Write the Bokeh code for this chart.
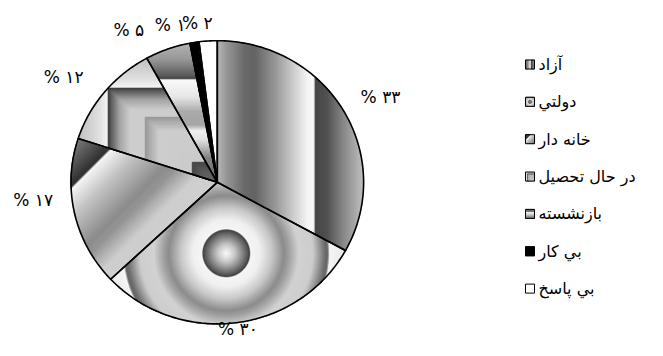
import numpy as np
from bokeh.plotting import figure
from bokeh.models import Range1d, ColumnDataSource
from bokeh.embed import file_html
from bokeh.resources import INLINE
from bokeh.core.properties import value

# ---------------- data ----------------
categories = ["آزاد", "دولتي", "خانه دار", "در حال تحصيل", "بازنشسته", "بي كار", "بي پاسخ"]
percents = [33, 30, 17, 12, 5, 1, 2]

FA_DIGITS = str.maketrans("0123456789", "۰۱۲۳۴۵۶۷۸۹")
labels = ["% " + str(v).translate(FA_DIGITS) for v in percents]

# ---------------- layout / style ----------------
W, H = 647, 340
CX, CY = 216.8, 181.8          # pie centre (px, y down)
RX, RY = 146.3, 141.6          # pie radii
FONT = "DejaVu Sans"
label_r = [184, 148.5, 185, 186, 176, 164, 161]
label_shift = [3.1, -0.8, 7.1, -5.3, -10.4, -7.7, -3.5]
LEG_X, LEG_Y0, LEG_DY, LEG_S = 525, 64, 37.35, 9


def gray(g):
    g = int(max(0, min(255, round(g))))
    return "#%02x%02x%02x" % (g, g, g)


# ---------------- geometry helpers ----------------
def hp(poly, a, b):
    """keep part of polygon with a.p <= b"""
    out = []
    n = len(poly)
    for i in range(n):
        P, Q = poly[i], poly[(i + 1) % n]
        fp = a[0] * P[0] + a[1] * P[1] - b
        fq = a[0] * Q[0] + a[1] * Q[1] - b
        if fp <= 0:
            out.append(P)
        if (fp < 0 < fq) or (fq < 0 < fp):
            t = fp / (fp - fq)
            out.append((P[0] + t * (Q[0] - P[0]), P[1] + t * (Q[1] - P[1])))
    return out


def area(poly):
    s = 0.0
    for i in range(len(poly)):
        x0, y0 = poly[i]
        x1, y1 = poly[(i + 1) % len(poly)]
        s += x0 * y1 - x1 * y0
    return s / 2


def clip_convex(subj, clip):
    sg = 1 if area(clip) > 0 else -1
    for i in range(len(clip)):
        A, B = clip[i], clip[(i + 1) % len(clip)]
        a = (sg * (B[1] - A[1]), -sg * (B[0] - A[0]))
        b = a[0] * A[0] + a[1] * A[1]
        subj = hp(subj, a, b)
        if len(subj) < 3:
            return []
    return subj


def breaks(lo, hi, ts, step):
    vals = list(np.arange(lo, hi, step)) + [t for t in ts if lo < t < hi] + [hi]
    return sorted(set(round(v, 4) for v in vals))


def linear(S, n, prof, step=1.0):
    ts = np.array([p[0] for p in prof], float)
    gs = np.array([p[1] for p in prof], float)
    proj = [n[0] * x + n[1] * y for x, y in S]
    br = breaks(min(proj), max(proj), ts, step)
    out = []
    for t0, t1 in zip(br[:-1], br[1:]):
        poly = hp(S, (-n[0], -n[1]), -t0)
        poly = hp(poly, n, t1)
        if len(poly) >= 3:
            out.append((poly, gray(np.interp((t0 + t1) / 2, ts, gs))))
    return out


def radial(S, c, prof, step=1.0, nseg=72):
    rs = np.array([p[0] for p in prof], float)
    gs = np.array([p[1] for p in prof], float)
    far = max(np.hypot(x - c[0], y - c[1]) for x, y in S)
    br = breaks(0.0, far, rs, step)[::-1]
    out = []
    last = None
    for k in range(len(br) - 1):
        r0, r1 = br[k], br[k + 1]
        col = gray(np.interp((r0 + r1) / 2, rs, gs))
        if col == last:
            continue
        m = max(16, int(nseg * min(1, r0 / 40)))
        ang = np.linspace(0, 2 * np.pi, m, endpoint=False)
        rr = r0 / np.cos(np.pi / m)
        disk = [(c[0] + rr * np.cos(t), c[1] + rr * np.sin(t)) for t in ang]
        poly = clip_convex(S, disk)
        if poly:
            out.append((poly, col))
            last = col
    return out


def quadrant(S, x0, y0, prof, step=1.0):
    ss = np.array([p[0] for p in prof], float)
    gs = np.array([p[1] for p in prof], float)
    xs = [x for x, y in S]
    ys = [y for x, y in S]
    lo = max(ss[0], min(min(xs) - x0, min(ys) - y0))
    hi = min(max(xs) - x0, max(ys) - y0)
    if hi <= lo:
        return []
    br = breaks(lo, hi, ss, step)
    out = []
    last = None
    for s0, s1 in zip(br[:-1], br[1:]):
        col = gray(np.interp((s0 + s1) / 2, ss, gs))
        if col == last:
            continue
        poly = hp(S, (-1, 0), -(x0 + s0))
        poly = hp(poly, (0, -1), -(y0 + s0))
        if len(poly) >= 3:
            out.append((poly, col))
            last = col
    return out


# ---------------- slices ----------------
def ell(theta):
    t = np.radians(theta)
    return (CX + RX * np.sin(t), CY - RY * np.cos(t))


total = float(sum(percents))
cum = np.concatenate([[0], np.cumsum(percents)]) / total * 360.0
slices = []
for i in range(len(percents)):
    a0, a1 = cum[i], cum[i + 1]
    n = max(2, int(np.ceil(a1 - a0)) + 1)
    slices.append([(CX, CY)] + [ell(a) for a in np.linspace(a0, a1, n)])


def slice_fill(i, S):
    if i == 0:   # vertical bands
        prof = [(0, 185), (10, 150), (28, 105), (38, 100), (58, 150), (75, 200),
                (91, 245), (97, 250), (98.5, 70), (110, 80), (128, 140), (146, 190)]
        return linear(S, (1, 0), [(CX + a, g) for a, g in prof])
    if i == 1:   # concentric rings
        prof = [(0, 248), (8, 200), (15, 140), (21, 85), (23, 60), (23.6, 245), (33, 240),
                (45, 200), (57, 140), (62, 160), (72, 210), (86, 205), (98, 110),
                (101, 100), (102.5, 245), (115, 235), (130, 190), (160, 160)]
        return radial(S, (CX + 9, CY + 71), prof)
    if i == 2:   # diagonal bands
        prof = [(-184, 125), (-154, 70), (-141, 45), (-138.5, 245), (-109, 195),
                (-67, 140), (-54, 150), (-27, 205), (10, 208)]
        return linear(S, (1, 1), [(CX + CY + a, g) for a, g in prof])
    if i == 3:   # nested corner frames
        out = quadrant(S, CX - 109, CY - 94,
                       [(-80, 165), (-40, 175), (-8, 225), (-0.01, 245), (0, 55),
                        (3, 90), (12, 165), (22, 205), (120, 205)])
        out += quadrant(S, CX - 72, CY - 65, [(0, 150), (5, 172), (14, 205), (80, 200)])
        out += quadrant(S, CX - 25, CY - 20, [(0, 70), (12, 95), (40, 110)])
        return out
    if i == 4:   # horizontal bands
        prof = [(-142, 185), (-122, 150), (-105, 85), (-103, 60), (-102, 250), (-85, 230),
                (-70, 170), (-57, 165), (-51, 240), (-42, 225), (-24, 130), (0, 110)]
        return linear(S, (0, 1), [(CY + a, g) for a, g in prof])
    if i == 5:
        return [(S, "#000000")]
    return [(S, "#ffffff")]


def legend_fill(i, Q, x0, y0):
    s = LEG_S
    if i == 0:
        return linear(Q, (1, 0), [(x0, 80), (x0 + 3, 150), (x0 + 5.5, 250), (x0 + 6.2, 60), (x0 + s, 140)], 0.5)
    if i == 1:
        return radial(Q, (x0 + s / 2, y0 + s / 2), [(0, 150), (1.3, 90), (2.0, 240), (3.2, 200), (7, 120)], 0.4, 24)
    if i == 2:
        b = x0 + y0
        return linear(Q, (1, 1), [(b, 60), (b + 5.5, 60), (b + 6.3, 240), (b + 11, 180), (b + 18, 120)], 0.5)
    if i == 3:
        return quadrant(Q, x0 + 2, y0 + 2, [(-2, 215), (-0.01, 225), (0, 60), (1.5, 180), (7, 205)], 0.4)
    if i == 4:
        return linear(Q, (0, 1), [(y0, 150), (y0 + 2.8, 90), (y0 + 3.3, 245), (y0 + 6, 200), (y0 + s, 110)], 0.5)
    if i == 5:
        return [(Q, "#000000")]
    return [(Q, "#ffffff")]


fx, fy, fc = [], [], []
for i, S in enumerate(slices):
    for poly, col in slice_fill(i, S):
        fx.append([p[0] for p in poly])
        fy.append([p[1] for p in poly])
        fc.append(col)

legend_polys = []
for i in range(len(categories)):
    x0 = LEG_X
    y0 = LEG_Y0 + i * LEG_DY - LEG_S / 2
    Q = [(x0, y0), (x0 + LEG_S, y0), (x0 + LEG_S, y0 + LEG_S), (x0, y0 + LEG_S)]
    legend_polys.append(Q)
    for poly, col in legend_fill(i, Q, x0, y0):
        fx.append([p[0] for p in poly])
        fy.append([p[1] for p in poly])
        fc.append(col)

# ---------------- figure ----------------
p = figure(width=W, height=H, output_backend="svg", toolbar_location=None,
           x_range=Range1d(0, W), y_range=Range1d(H, 0),
           min_border=0, tools="")
p.axis.visible = False
p.grid.visible = False
p.outline_line_color = None
p.background_fill_color = "white"
p.border_fill_color = "white"

p.patches("xs", "ys", source=ColumnDataSource(dict(xs=fx, ys=fy, c=fc)),
          fill_color="c", line_color="c", line_width=1)

p.patches([[q[0] for q in S] for S in slices], [[q[1] for q in S] for S in slices],
          fill_alpha=0, line_color="black", line_width=1.6, line_join="round")
p.patches([[q[0] for q in Q] for Q in legend_polys], [[q[1] for q in Q] for Q in legend_polys],
          fill_alpha=0, line_color="black", line_width=1)

# data labels
mids = (cum[:-1] + cum[1:]) / 2
lx, ly = [], []
for i, m in enumerate(mids):
    t = np.radians(m + label_shift[i])
    lx.append(CX + label_r[i] * np.sin(t))
    ly.append(CY - label_r[i] * np.cos(t))
p.text(lx, ly, text=labels, text_font=value(FONT), text_font_size="17px",
       text_align="center", text_baseline="middle", text_color="black")

# legend text
p.text([LEG_X + LEG_S + 4] * len(categories),
       [LEG_Y0 + i * LEG_DY for i in range(len(categories))],
       text=categories, text_font=value(FONT), text_font_size="16px",
       text_align="left", text_baseline="middle", text_color="black")

open("out.html", "w").write(file_html(p, INLINE))
